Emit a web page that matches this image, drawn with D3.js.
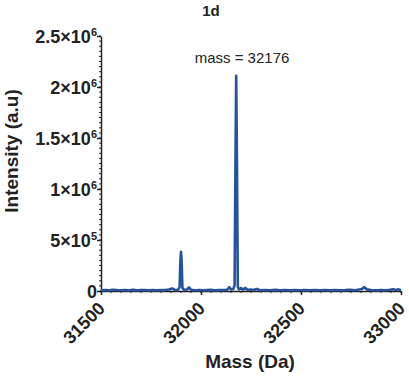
<!DOCTYPE html>
<meta charset="utf-8">
<style>
body { margin: 0; background: #fff; }
svg { display: block; }
text { font-family: "Liberation Sans", Arial, sans-serif; fill: #222; }
.axis path, .axis line { stroke: #222; stroke-width: 1.5px; fill: none; }
.minor line { stroke: #222; stroke-width: 1px; }
</style>
<body>
<script src="https://d3js.org/d3.v7.min.js"></script>
<script>
// spectrum
var mass = [31500, 31520, 31540, 31560, 31580, 31600, 31620, 31640, 31660, 31680,
  31700, 31720, 31740, 31760, 31780, 31800, 31820, 31840, 31855, 31868,
  31885, 31893, 31897, 31900, 31903, 31907, 31915, 31930, 31940, 31950,
  31970, 31990, 32010, 32030, 32050, 32070, 32090, 32110, 32130, 32142,
  32150, 32162, 32168, 32172, 32176, 32180, 32184, 32190, 32200, 32210,
  32222, 32232, 32250, 32262, 32280, 32295, 32320, 32345, 32370, 32395,
  32420, 32445, 32470, 32495, 32520, 32545, 32570, 32595, 32620, 32645,
  32670, 32695, 32720, 32745, 32770, 32790, 32805, 32815, 32830, 32850,
  32875, 32900, 32925, 32945, 32960, 32975, 32988, 33000];
var intensity = [8000, 10000, 6000, 12000, 9000, 7000, 10000, 8000, 11000, 7000,
  9000, 10000, 6000, 9000, 8000, 10000, 9000, 14000, 25000, 12000,
  10000, 40000, 300000, 385000, 300000, 30000, 12000, 15000, 35000, 12000,
  8000, 10000, 7000, 9000, 11000, 8000, 10000, 9000, 12000, 38000,
  15000, 20000, 60000, 1200000, 2110000, 1200000, 40000, 15000, 28000, 14000,
  30000, 12000, 15000, 9000, 20000, 8000, 10000, 7000, 11000, 8000,
  9000, 7000, 10000, 8000, 9000, 7000, 10000, 8000, 9000, 7000,
  10000, 8000, 9000, 12000, 8000, 14000, 20000, 38000, 16000, 9000,
  8000, 10000, 7000, 12000, 18000, 9000, 16000, 8000];
var xTicks = [31500, 32000, 32500, 33000];
var yTicks = [0, 500000, 1000000, 1500000, 2000000, 2500000];
var yLabels = [["0", ""], ["5×10", "5"], ["1×10", "6"], ["1.5×10", "6"], ["2×10", "6"], ["2.5×10", "6"]];
var peakLabel = "mass = 32176";

var W = 409, H = 381;
var svg = d3.select("body").append("svg").attr("width", W).attr("height", H);

var x = d3.scaleLinear().domain([31500, 33000]).range([101, 401]);
var y = d3.scaleLinear().domain([0, 2500000]).range([291, 36]);

// minor ticks
svg.append("g").attr("class", "minor")
  .selectAll("line").data(d3.range(0, 2500001, 50000)).enter().append("line")
  .attr("x1", 101).attr("x2", 99)
  .attr("y1", d => y(d)).attr("y2", d => y(d));
svg.append("g").attr("class", "minor")
  .selectAll("line").data(d3.range(31500, 33001, 50)).enter().append("line")
  .attr("y1", 291).attr("y2", 293)
  .attr("x1", d => x(d)).attr("x2", d => x(d));

// y axis
var yAxis = svg.append("g").attr("class", "axis")
  .attr("transform", "translate(101,0)")
  .call(d3.axisLeft(y).tickValues(yTicks).tickSize(4).tickSizeOuter(0).tickFormat(""));
yAxis.selectAll(".tick").each(function(d, i) {
  var t = d3.select(this).append("text")
    .attr("x", -4).attr("dy", "0.36em")
    .attr("text-anchor", "end")
    .style("font-size", "18px").style("font-weight", "bold");
  t.append("tspan").text(yLabels[i][0]);
  if (yLabels[i][1]) {
    t.append("tspan").attr("dy", "-0.6em").style("font-size", "11px").text(yLabels[i][1]);
  }
});

// x axis
var xAxis = svg.append("g").attr("class", "axis")
  .attr("transform", "translate(0,291)")
  .call(d3.axisBottom(x).tickValues(xTicks).tickSize(4).tickSizeOuter(0).tickFormat(""));
xAxis.selectAll(".tick").append("text")
  .attr("transform", "translate(0,14) rotate(-45)")
  .attr("text-anchor", "end")
  .attr("dy", "0.36em")
  .style("font-size", "18px").style("font-weight", "bold")
  .text(d => d);

// spectrum line
var line = d3.line().x((d, i) => x(mass[i])).y((d, i) => y(intensity[i]));
svg.append("path")
  .datum(mass)
  .attr("d", line)
  .attr("fill", "none")
  .attr("stroke", "#27539c")
  .attr("stroke-width", 2.6)
  .attr("stroke-linejoin", "round");

// texts
svg.append("text").attr("x", 211).attr("y", 16).attr("text-anchor", "middle")
  .style("font-size", "15px").style("font-weight", "bold").text("1d");
svg.append("text").attr("x", 242).attr("y", 63).attr("text-anchor", "middle")
  .style("font-size", "15px").text(peakLabel);
svg.append("text").attr("transform", "translate(18,151) rotate(-90)")
  .attr("text-anchor", "middle")
  .style("font-size", "19px").style("font-weight", "bold").text("Intensity (a.u)");
svg.append("text").attr("x", 250).attr("y", 368).attr("text-anchor", "middle")
  .style("font-size", "19px").style("font-weight", "bold").text("Mass (Da)");
</script>
</body>
